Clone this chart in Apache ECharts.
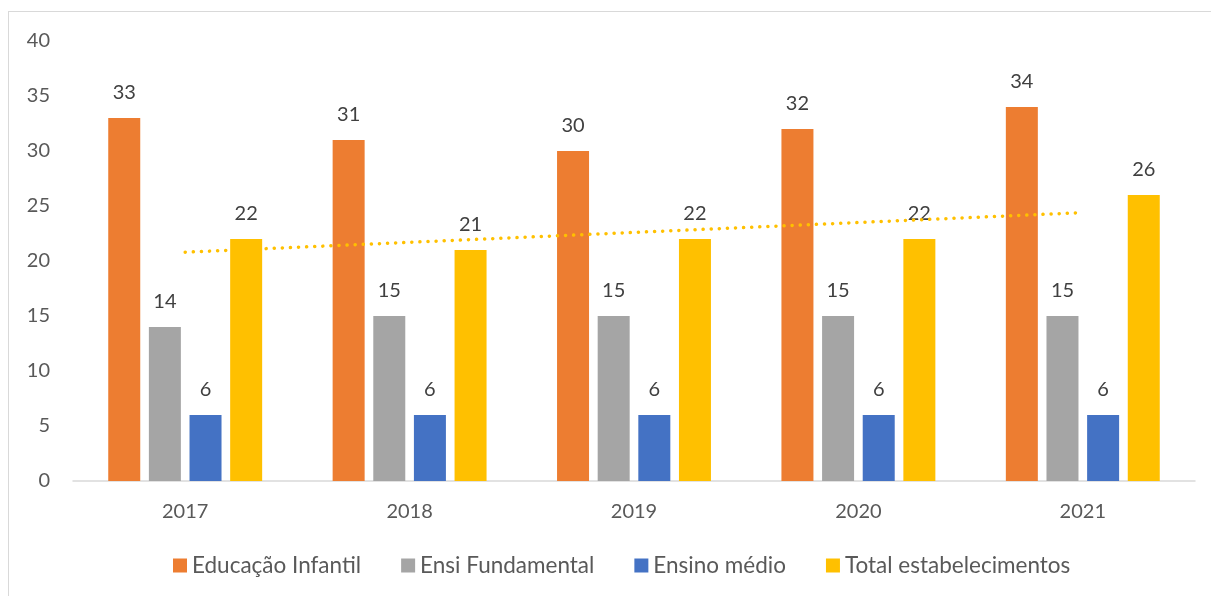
<!DOCTYPE html>
<html><head><meta charset="utf-8">
<script src="https://cdn.jsdelivr.net/npm/echarts@6/dist/echarts.min.js"></script>
<style>
html,body{margin:0;padding:0;background:#fff;overflow:hidden}
#frame{position:absolute;left:8px;top:11px;width:1300px;height:700px;border-left:1.5px solid #D9D9D9;border-top:1.5px solid #D9D9D9;box-sizing:border-box}
#c{position:absolute;left:0;top:0;width:1211px;height:596px}
</style></head>
<body><div id="frame"></div><div id="c"></div>
<script>
const categories = ['2017','2018','2019','2020','2021'];
const educacaoInfantil = [33,31,30,32,34];
const ensiFundamental = [14,15,15,15,15];
const ensinoMedio = [6,6,6,6,6];
const totalEstabelecimentos = [22,21,22,22,26];
const trendEnds = [20.8, 24.4]; // linear trendline of total, read at 2017 and 2021
const yTicks = [0,5,10,15,20,25,30,35,40];
const seriesNames = ['Educação Infantil','Ensi Fundamental','Ensino médio','Total estabelecimentos'];
const colors = ['#ED7D31','#A5A5A5','#4472C4','#FFC000'];
const legendTextWidths = [163, 169, 128, 222];

const font = 'Lato, "Liberation Sans", sans-serif';
const chart = echarts.init(document.getElementById('c'), null, {renderer:'canvas'});
const barLabel = {show:true, position:'top', distance:15, color:'#404040', fontSize:20, fontFamily:font};
function bar(i, data){
  return {name:seriesNames[i], type:'bar', data:data, barWidth:32, barGap:'27%', barCategoryGap:'31%',
    itemStyle:{color:colors[i]}, label:barLabel, z:2};
}
const trendData = categories.map((c,i)=> i===0 ? trendEnds[0] : (i===categories.length-1 ? trendEnds[1] : null));
chart.setOption({
  animation:false,
  textStyle:{fontFamily:font},
  grid:{left:73, right:16, top:41, bottom:115, containLabel:false},
  legend:{data:seriesNames.map((n,i)=>({name:n, textStyle:{width:legendTextWidths[i]}})),
    top:549, left:168, icon:'rect', itemWidth:14, itemHeight:14, itemGap:40,
    textStyle:{color:'#595959', fontSize:22.5, fontFamily:font}},
  xAxis:{type:'category', data:categories,
    axisLine:{lineStyle:{color:'#D9D9D9', width:1.5}}, axisTick:{show:false},
    axisLabel:{color:'#595959', fontSize:20, margin:21, fontFamily:font}},
  yAxis:{type:'value', min:yTicks[0], max:yTicks[yTicks.length-1], interval:5,
    axisLine:{show:false}, axisTick:{show:false}, splitLine:{show:false},
    axisLabel:{color:'#595959', fontSize:20, margin:23, fontFamily:font}},
  series:[
    bar(0, educacaoInfantil), bar(1, ensiFundamental), bar(2, ensinoMedio), bar(3, totalEstabelecimentos),
    {name:'trend', type:'line', data:trendData, connectNulls:true, symbol:'none', z:5,
      lineStyle:{color:'#FFC000', width:3.5, type:[0.1,8], cap:'round'}, silent:true}
  ]
});
</script></body></html>
